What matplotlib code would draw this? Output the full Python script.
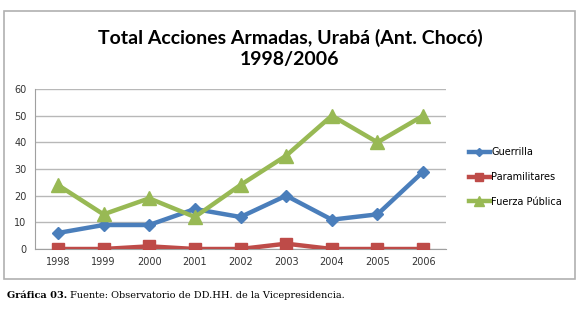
import matplotlib
matplotlib.use("Agg")
import matplotlib.pyplot as plt
from matplotlib.patches import Rectangle

years = ["1998", "1999", "2000", "2001", "2002", "2003", "2004", "2005", "2006"]
guerrilla = [6, 9, 9, 15, 12, 20, 11, 13, 29]
paramilitares = [0, 0, 1, 0, 0, 2, 0, 0, 0]
fuerza_publica = [24, 13, 19, 12, 24, 35, 50, 40, 50]
yticks = [0, 10, 20, 30, 40, 50, 60]

W, H = 580, 309
fig = plt.figure(figsize=(W / 100, H / 100), dpi=100)
fig.patch.set_facecolor("white")

# outer chart frame
fig.patches.append(Rectangle((4 / W, 1 - 279 / H), 571 / W, 268 / H,
                             transform=fig.transFigure, fill=False,
                             edgecolor="#b0b0b0", linewidth=1.2))

ax = fig.add_axes([35 / W, 1 - 249 / H, 411 / W, 160 / H])
x = range(len(years))
lw = 3.2
ax.plot(x, guerrilla, color="#4A7EBB", lw=lw, marker="D", ms=6.5, label="Guerrilla", zorder=3)
ax.plot(x, paramilitares, color="#BE4B48", lw=lw, marker="s", ms=9, label="Paramilitares", zorder=3)
ax.plot(x, fuerza_publica, color="#98B954", lw=lw, marker="^", ms=9.5, label="Fuerza Pública", zorder=3)

ax.set_xlim(-0.5, len(years) - 0.5)
ax.set_ylim(0, 60)
ax.set_yticks(yticks)
ax.set_xticks(list(x))
ax.set_xticklabels(years)
ax.grid(axis="y", color="#b8b8b8", lw=1)
ax.set_axisbelow(True)
for s in ["top", "right"]:
    ax.spines[s].set_visible(False)
ax.spines["left"].set_color("#a0a0a0")
ax.spines["bottom"].set_color("#a0a0a0")
ax.tick_params(axis="both", length=0, labelsize=7, colors="#333333", pad=6)

fig.text(290 / W, 1 - 38 / H, "Total Acciones Armadas, Urabá (Ant. Chocó)",
         ha="center", va="center", fontsize=14, fontweight="bold", family="Lato")
fig.text(290 / W, 1 - 60 / H, "1998/2006",
         ha="center", va="center", fontsize=14, fontweight="bold", family="Lato")

handles, labels = ax.get_legend_handles_labels()
fig.legend(handles, labels, loc="center left", bbox_to_anchor=(460 / W, 1 - 177 / H),
           frameon=False, fontsize=7, handlelength=2.2, handletextpad=0.1,
           labelspacing=1.5, markerscale=0.7)

fig.text(7 / W, 1 - 295 / H, "Gráfica 03.", ha="left", va="center",
         fontsize=7, fontweight="bold", family="DejaVu Serif")
fig.text(70 / W, 1 - 295 / H, "Fuente: Observatorio de DD.HH. de la Vicepresidencia.",
         ha="left", va="center", fontsize=7, family="DejaVu Serif")

fig.savefig("out.png", dpi=100, facecolor="white")
